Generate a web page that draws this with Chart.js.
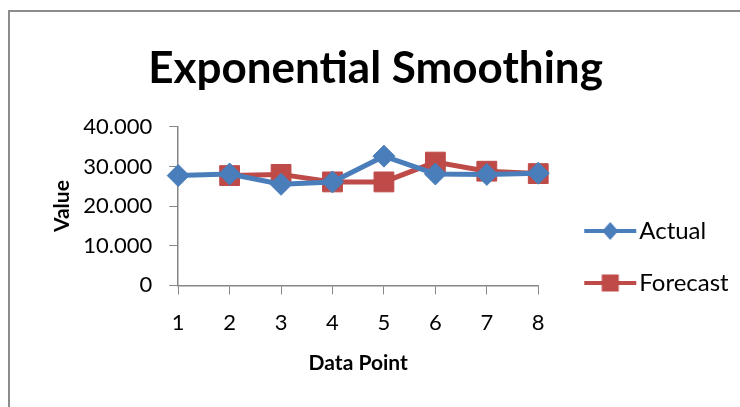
<!DOCTYPE html>
<html>
<head>
<meta charset="utf-8">
<script src="https://cdn.jsdelivr.net/npm/chart.js@4"></script>
<style>
  html, body { margin: 0; padding: 0; background: #fff; overflow: hidden; }
  #wrap { position: relative; width: 740px; height: 407px; }
  #frame { position: absolute; left: 8px; top: 10px; width: 760px; height: 420px; border: 2px solid #8c8c8c; box-sizing: border-box; }
  canvas { position: absolute; left: 0; top: 0; }
</style>
</head>
<body>
<div id="wrap">
  <div id="frame"></div>
  <canvas id="grafico" width="740" height="407"></canvas>
</div>
<script>
const pontos = ["1", "2", "3", "4", "5", "6", "7", "8"];
const real = [27.7, 28.1, 25.5, 26.1, 32.6, 28.1, 28.0, 28.3];
const previsao = [null, 27.7, 28.0, 26.1, 26.1, 31.1, 28.8, 28.2];
const ticksY = [0, 10, 20, 30, 40];

const azul = "#4a7ebb";
const vermelho = "#be4b48";
const cinza = "#868686";
const fonte = "Lato, 'Liberation Sans', sans-serif";

// icone da legenda: linha com marcador no meio
function iconeLegenda(cor, forma) {
  const c = document.createElement("canvas");
  c.width = 54;
  c.height = 20;
  const g = c.getContext("2d");
  g.strokeStyle = cor;
  g.lineWidth = 4;
  g.beginPath();
  g.moveTo(1, 10);
  g.lineTo(53, 10);
  g.stroke();
  g.fillStyle = cor;
  g.beginPath();
  if (forma === "losango") {
    g.moveTo(27, 1); g.lineTo(35, 10); g.lineTo(27, 19); g.lineTo(19, 10);
  } else {
    g.rect(18.5, 1.5, 17, 17);
  }
  g.closePath();
  g.fill();
  return c;
}

const icones = [iconeLegenda(azul, "losango"), iconeLegenda(vermelho, "quadrado")];

// empurra a legenda para a posicao do Excel (mais abaixo e a direita)
const ajusteLegenda = {
  id: "ajusteLegenda",
  afterLayout(chart) {
    const lg = chart.legend;
    const dx = 27, dy = 46;
    lg.left += dx; lg.right += dx;
    lg.top += dy; lg.bottom += dy;
  }
};

new Chart(document.getElementById("grafico").getContext("2d"), {
  type: "line",
  data: {
    labels: pontos,
    datasets: [
      {
        label: "Actual",
        data: real,
        borderColor: azul,
        backgroundColor: azul,
        borderWidth: 5,
        pointStyle: "rectRot",
        pointRadius: 11,
        pointBorderWidth: 1,
        pointBorderColor: azul,
        tension: 0
      },
      {
        label: "Forecast",
        data: previsao,
        borderColor: vermelho,
        backgroundColor: vermelho,
        borderWidth: 5,
        pointStyle: "rect",
        pointRadius: 14,
        pointBorderWidth: 1,
        pointBorderColor: vermelho,
        tension: 0
      }
    ]
  },
  plugins: [ajusteLegenda],
  options: {
    responsive: false,
    animation: false,
    layout: { padding: { top: 42, left: 50, right: 39, bottom: 27 } },
    plugins: {
      tooltip: { enabled: false },
      title: {
        display: true,
        text: "Exponential Smoothing",
        color: "#000",
        font: { family: fonte, size: 44, weight: "bold" },
        padding: { top: 0, bottom: 32 }
      },
      legend: {
        position: "right",
        labels: {
          usePointStyle: true,
          pointStyleWidth: 34,
          padding: 28,
          color: "#000",
          font: { family: fonte, size: 24 },
          generateLabels: chart => chart.data.datasets.map((ds, i) => ({
            text: ds.label,
            pointStyle: icones[i],
            fillStyle: ds.borderColor,
            strokeStyle: ds.borderColor,
            lineWidth: 0,
            datasetIndex: i,
            fontColor: "#000"
          }))
        }
      }
    },
    scales: {
      x: {
        offset: false,
        grid: { drawOnChartArea: false, color: cinza, tickLength: 9 },
        border: { color: cinza, width: 1.5 },
        ticks: { color: "#000", padding: 15, font: { family: fonte, size: 22 } },
        title: { display: true, text: "Data Point", color: "#000", padding: { top: 0, bottom: 4 }, font: { family: fonte, size: 21, weight: "bold" } }
      },
      y: {
        min: 0,
        max: 40,
        afterBuildTicks: eixo => { eixo.ticks = ticksY.map(v => ({ value: v })); },
        grid: { drawOnChartArea: false, color: cinza, tickLength: 9 },
        border: { color: cinza, width: 1.5 },
        ticks: {
          color: "#000",
          padding: 17,
          font: { family: fonte, size: 22 },
          callback: v => v === 0 ? "0" : v.toFixed(3)
        },
        title: { display: true, text: "Value", color: "#000", padding: { top: 0, bottom: -9 }, font: { family: fonte, size: 21, weight: "bold" } }
      }
    }
  }
});
</script>
</body>
</html>
